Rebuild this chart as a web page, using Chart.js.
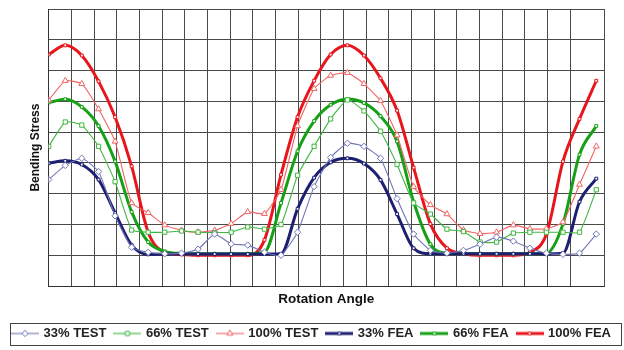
<!DOCTYPE html>
<html>
<head>
<meta charset="utf-8">
<script src="https://cdn.jsdelivr.net/npm/chart.js@4.4.0/dist/chart.umd.min.js"></script>
<style>
  html, body { margin: 0; padding: 0; background: #fff; }
</style>
</head>
<body>
<canvas id="grafico" width="624" height="350"></canvas>
<script>
// posicao angular de cada ponto (em divisoes da grade)
const angulos = [0, 0.73, 1.46, 2.2, 2.93, 3.66, 4.39, 5.12, 5.86, 6.59, 7.32, 8.05, 8.78, 9.52, 10.25, 10.98, 11.71,
                 12.44, 13.18, 13.91, 14.64, 15.37, 16.1, 16.84, 17.57, 18.3, 19.03, 19.76, 20.5, 21.23, 21.96, 22.69, 23.42, 24.16];

const teste33 = [3.46, 3.92, 4.15, 3.72, 2.28, 1.26, 1.1, 1.05, 1.07, 1.2, 1.69, 1.37, 1.33, 1.1, 1.0, 1.75, 3.23,
                 4.18, 4.64, 4.54, 4.15, 2.84, 1.69, 1.16, 1.07, 1.16, 1.36, 1.59, 1.46, 1.23, 1.07, 1.03, 1.07, 1.69];
const teste66 = [4.54, 5.33, 5.23, 4.54, 3.39, 1.82, 1.75, 1.75, 1.79, 1.75, 1.74, 1.75, 1.92, 1.85, 2.0, 3.6, 4.54,
                 5.43, 6.05, 5.69, 5.03, 3.95, 2.7, 2.34, 1.85, 1.77, 1.43, 1.43, 1.72, 1.75, 1.75, 1.75, 1.75, 3.13];
const teste100 = [6.04, 6.67, 6.57, 5.75, 4.7, 2.7, 2.38, 1.98, 1.81, 1.75, 1.81, 2.03, 2.41, 2.35, 3.13, 5.2, 6.41,
                  6.84, 6.93, 6.57, 6.02, 4.9, 3.23, 2.64, 2.34, 1.82, 1.7, 1.75, 1.98, 1.86, 1.86, 2.08, 3.3, 4.54];
const fea33 = [3.99, 4.07, 3.95, 3.46, 2.38, 1.33, 1.03, 1.04, 1.04, 1.04, 1.04, 1.04, 1.04, 1.04, 1.05, 2.51, 3.52,
               4.02, 4.15, 3.98, 3.45, 2.34, 1.23, 1.05, 1.05, 1.05, 1.05, 1.05, 1.05, 1.05, 1.05, 1.07, 2.74, 3.49];
const fea66 = [5.96, 6.07, 5.82, 5.2, 4.05, 2.41, 1.43, 1.13, 1.06, 1.05, 1.05, 1.05, 1.05, 1.1, 2.7, 4.38, 5.36,
               5.89, 6.08, 5.95, 5.52, 4.7, 2.74, 1.36, 1.07, 1.05, 1.05, 1.05, 1.05, 1.05, 1.07, 2.02, 4.27, 5.2];
const fea100 = [7.52, 7.82, 7.49, 6.65, 5.49, 3.89, 1.75, 1.1, 1.03, 1.0, 1.0, 1.0, 1.0, 1.5, 3.62, 5.49, 6.67,
                7.52, 7.82, 7.49, 6.75, 5.7, 3.85, 2.02, 1.23, 1.05, 1.0, 1.0, 1.0, 1.1, 1.69, 4.05, 5.43, 6.67];

const nomes = ['33% TEST', '66% TEST', '100% TEST', '33% FEA', '66% FEA', '100% FEA'];
const valores = [teste33, teste66, teste100, fea33, fea66, fea100];

const estilos = [
    {cor: '#7176b6', largura: 1.1, marcador: 'rectRot', raio: 3.2, grossa: false},
    {cor: '#40b640', largura: 1.1, marcador: 'rect', raio: 3, grossa: false},
    {cor: '#f06464', largura: 1.1, marcador: 'triangle', raio: 3.4, grossa: false},
    {cor: '#1d2070', largura: 3, marcador: 'rect', raio: 2, grossa: true},
    {cor: '#16a016', largura: 3, marcador: 'rect', raio: 2, grossa: true},
    {cor: '#e8161c', largura: 3, marcador: 'rect', raio: 2, grossa: true}
];

// icone da legenda: linha com o marcador no meio
function iconeLegenda(est) {
    const c = document.createElement('canvas');
    c.width = 28;
    c.height = 10;
    const g = c.getContext('2d');
    g.strokeStyle = est.cor;
    g.lineWidth = est.largura;
    g.beginPath();
    g.moveTo(0, 5);
    g.lineTo(28, 5);
    g.stroke();
    g.fillStyle = '#fff';
    g.lineWidth = 1;
    Chart.helpers.drawPoint(g, {pointStyle: est.marcador, radius: est.raio, borderWidth: 1}, 14, 5);
    return c;
}
const icones = estilos.map(iconeLegenda);

const datasets = nomes.map(function(nome, i) {
    const est = estilos[i];
    return {
        label: nome,
        data: angulos.map(function(a, k) { return {x: a, y: valores[i][k]}; }),
        borderColor: est.cor,
        backgroundColor: '#fff',
        borderWidth: est.largura,
        pointStyle: est.marcador,
        pointRadius: est.raio,
        pointBorderWidth: 1,
        pointBorderColor: est.cor,
        pointBackgroundColor: '#fff',
        cubicInterpolationMode: est.grossa ? 'monotone' : 'default',
        tension: est.grossa ? 0.4 : 0.15,
        fill: false
    };
});

const caixaLegenda = {
    id: 'caixaLegenda',
    afterDraw(chart) {
        const ctx = chart.ctx;
        ctx.save();
        ctx.strokeStyle = '#444';
        ctx.lineWidth = 1;
        ctx.strokeRect(10.5, 323.5, 611, 22);
        ctx.restore();
    }
};

const grade = {color: '#4a4a4a', lineWidth: 1, drawTicks: false};

new Chart(document.getElementById('grafico'), {
    type: 'line',
    data: {datasets: datasets},
    plugins: [caixaLegenda],
    options: {
        responsive: false,
        animation: false,
        layout: {padding: {top: 9, left: 0, right: 0, bottom: 0}},
        plugins: {
            tooltip: {enabled: false},
            legend: {
                position: 'bottom',
                labels: {
                    usePointStyle: true,
                    pointStyleWidth: 24,
                    padding: 9,
                    color: '#222',
                    font: {family: 'Liberation Sans', size: 13, weight: 'bold'},
                    generateLabels(chart) {
                        const itens = Chart.defaults.plugins.legend.labels.generateLabels(chart);
                        itens.forEach(function(it, i) { it.pointStyle = icones[i]; });
                        return itens;
                    }
                }
            }
        },
        scales: {
            x: {
                type: 'linear',
                min: 0,
                max: 24.5,
                ticks: {stepSize: 1, display: false},
                grid: grade,
                border: {color: '#333'},
                title: {
                    display: true,
                    text: 'Rotation Angle',
                    color: '#111',
                    font: {family: 'Liberation Sans', size: 13.5, weight: 'bold'},
                    padding: {top: 0, bottom: 11}
                },
                afterFit(s) { s.height = 31.9; }
            },
            y: {
                min: 0,
                max: 9,
                ticks: {stepSize: 1, display: false},
                grid: grade,
                border: {color: '#333'},
                title: {
                    display: true,
                    text: 'Bending Stress',
                    color: '#111',
                    font: {family: 'Liberation Sans', size: 12, weight: 'bold'},
                    padding: {top: 28.8, bottom: 0}
                },
                afterFit(s) { s.width = 48.7; }
            },
            direita: {
                position: 'right',
                min: 0,
                max: 9,
                ticks: {display: false},
                grid: {display: false},
                border: {display: false},
                afterFit(s) { s.width = 20; }
            }
        }
    }
});
</script>
</body>
</html>
